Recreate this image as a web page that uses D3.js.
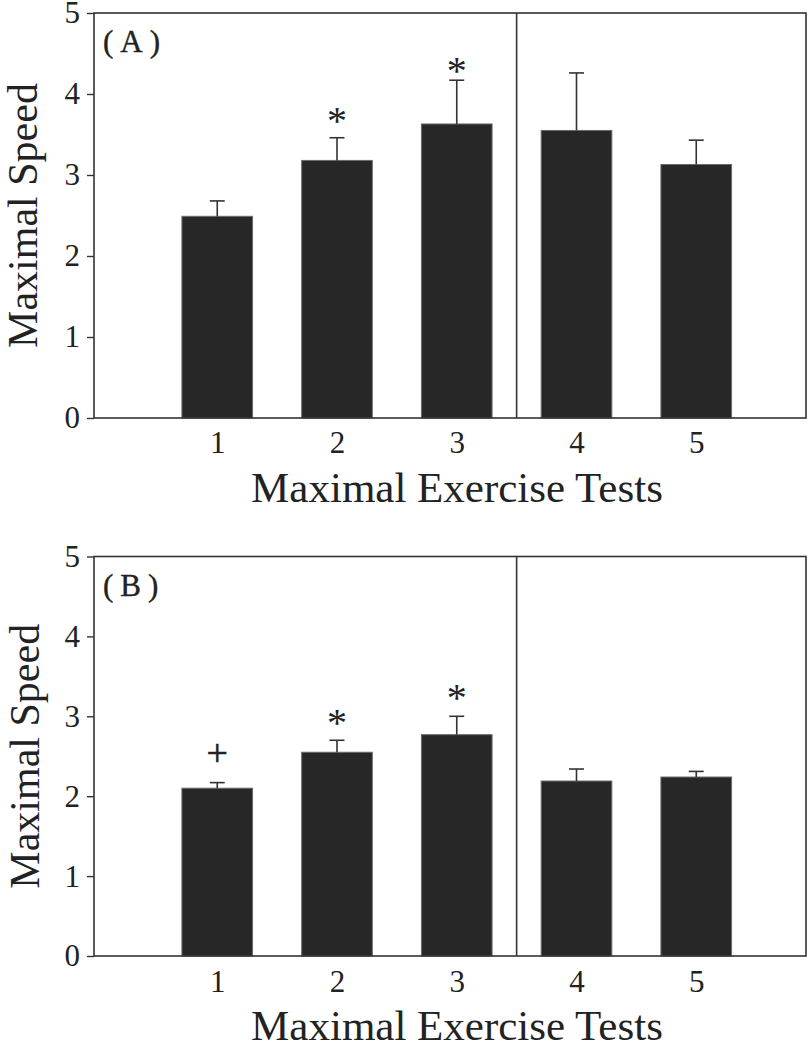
<!DOCTYPE html>
<html>
<head>
<meta charset="utf-8">
<script src="https://cdn.jsdelivr.net/npm/d3@7"></script>
<style>
  html, body { margin: 0; padding: 0; background: #fff; }
  svg text { font-family: "Liberation Serif", "Times New Roman", serif; fill: #222; }
</style>
</head>
<body>
<svg id="chart" width="808" height="1050"></svg>
<script>
// ---- data ----
const tests = [1, 2, 3, 4, 5];
const yTicks = [0, 1, 2, 3, 4, 5];
const panelLabels = ["(A)", "(B)"];
const yTitle = "Maximal Speed";
const xTitle = "Maximal Exercise Tests";

const meanA = [2.49, 3.18, 3.63, 3.55, 3.13];
const errA  = [0.19, 0.28, 0.54, 0.71, 0.30];
const markA = ["", "*", "*", "", ""];
const markPosA = [null, 3.74, 4.36, null, null];

const meanB = [2.10, 2.55, 2.77, 2.19, 2.24];
const errB  = [0.07, 0.15, 0.23, 0.15, 0.07];
const markB = ["+", "*", "*", "", ""];
const markPosB = [2.49, 2.99, 3.30, null, null];

const panels = [
  { label: panelLabels[0], mean: meanA, err: errA, mark: markA, markPos: markPosA,
    top: 13, bottom: 418, yTitleX: 37, tickBase: 35, titleBase: 502 },
  { label: panelLabels[1], mean: meanB, err: errB, mark: markB, markPos: markPosB,
    top: 556.5, bottom: 956, yTitleX: 39, tickBase: 36, titleBase: 1040 }
];

const svg = d3.select("#chart");
const left = 94, right = 806;
const x = d3.scaleLinear().domain([0, 6]).range([97.5, 816]);
const barW = x(0.59) - x(0);
const capW = x(0.125) - x(0);
const stroke = "#333";

panels.forEach(p => {
  const y = d3.scaleLinear().domain([0, 5]).range([p.bottom, p.top]);
  const g = svg.append("g");

  // bars
  g.selectAll("rect.bar").data(tests).enter().append("rect")
    .attr("class", "bar")
    .attr("x", d => x(d) - barW / 2)
    .attr("width", barW)
    .attr("y", (d, i) => y(p.mean[i]))
    .attr("height", (d, i) => y(0) - y(p.mean[i]))
    .attr("fill", "#272727")
    .attr("stroke", "#6a6a6a")
    .attr("stroke-width", 1);

  // error bars
  g.selectAll("line.err").data(tests).enter().append("line")
    .attr("x1", d => x(d)).attr("x2", d => x(d))
    .attr("y1", (d, i) => y(p.mean[i]))
    .attr("y2", (d, i) => y(p.mean[i] + p.err[i]))
    .attr("stroke", stroke).attr("stroke-width", 1.6);
  g.selectAll("line.cap").data(tests).enter().append("line")
    .attr("x1", d => x(d) - capW / 2).attr("x2", d => x(d) + capW / 2)
    .attr("y1", (d, i) => y(p.mean[i] + p.err[i]))
    .attr("y2", (d, i) => y(p.mean[i] + p.err[i]))
    .attr("stroke", stroke).attr("stroke-width", 1.6);

  // significance marks
  tests.forEach((d, i) => {
    if (!p.mark[i]) return;
    const cy = y(p.markPos[i]);
    const isStar = p.mark[i] === "*";
    g.append("text")
      .attr("x", x(d))
      .attr("y", isStar ? cy + 19 : cy + 9)
      .attr("text-anchor", "middle")
      .style("font-size", isStar ? "40px" : "38px")
      .style("stroke", "#222").style("stroke-width", isStar ? 0 : 0.5)
      .text(p.mark[i]);
  });

  // frame
  g.append("rect")
    .attr("x", left).attr("y", p.top)
    .attr("width", right - left).attr("height", p.bottom - p.top)
    .attr("fill", "none").attr("stroke", stroke).attr("stroke-width", 1.6);
  // divider
  g.append("line")
    .attr("x1", x(3.5)).attr("x2", x(3.5))
    .attr("y1", p.top).attr("y2", p.bottom)
    .attr("stroke", stroke).attr("stroke-width", 1.6);

  // y axis
  const ya = g.append("g").attr("transform", `translate(${left},0)`)
    .call(d3.axisLeft(y).tickValues(yTicks).tickFormat(d3.format("d")).tickSize(7).tickPadding(7));
  ya.select(".domain").remove();
  ya.selectAll(".tick line").attr("stroke", stroke).attr("stroke-width", 1.4);
  ya.selectAll(".tick text").style("font-size", "31px")
    .style("font-family", "'Liberation Serif', 'Times New Roman', serif").attr("fill", "#222");

  // x axis labels
  const xa = g.append("g").attr("transform", `translate(0,${p.bottom})`)
    .call(d3.axisBottom(x).tickValues(tests).tickFormat(d3.format("d")).tickSize(0).tickPadding(0));
  xa.select(".domain").remove();
  xa.selectAll(".tick text").attr("y", p.tickBase).attr("dy", 0)
    .style("font-size", "31px")
    .style("font-family", "'Liberation Serif', 'Times New Roman', serif").attr("fill", "#222");

  // titles
  g.append("text")
    .attr("x", 457).attr("y", p.titleBase)
    .attr("text-anchor", "middle")
    .style("font-size", "43px")
    .text(xTitle);
  g.append("text")
    .attr("transform", `translate(${p.yTitleX},${(p.top + p.bottom) / 2}) rotate(-90)`)
    .attr("text-anchor", "middle")
    .style("font-size", "42px")
    .text(yTitle);

  // panel label
  g.append("text")
    .attr("x", 103).attr("y", p.top + 39)
    .style("font-size", "31px")
    .style("letter-spacing", "7px")
    .style("stroke", "#222").style("stroke-width", 0.4)
    .text(p.label);
});
</script>
</body>
</html>
